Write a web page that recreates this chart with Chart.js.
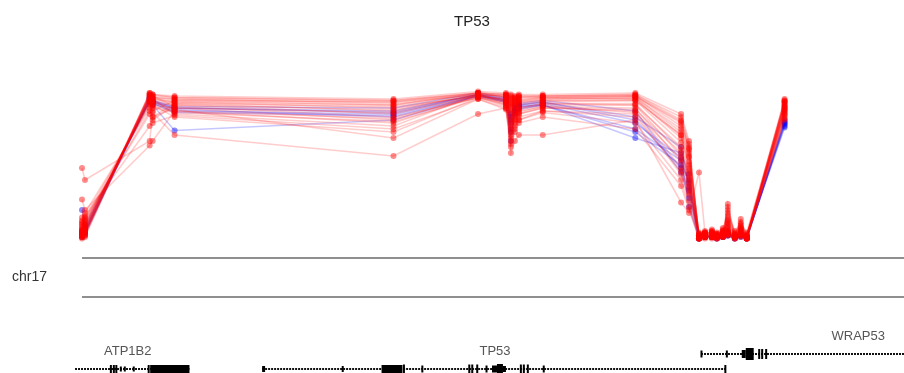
<!DOCTYPE html>
<html>
<head>
<meta charset="utf-8">
<title>TP53</title>
<script src="https://cdn.jsdelivr.net/npm/chart.js@4.4.1/dist/chart.umd.min.js"></script>
<style>
    html, body { margin: 0; padding: 0; background: #fff; }
    #wrap { width: 904px; height: 373px; }
</style>
</head>
<body>
<div id="wrap"><canvas id="methChart" width="904" height="373"></canvas></div>
<script>
// Region shown on chr17 (bp)
const regionStart = 7565000;
const regionEnd = 7589660;

// CpG probe positions (bp)
const cpgPositions = [
    7565000, 7565090, 7567040, 7567130, 7567790, 7574390, 7576940, 7577780,
    7577930, 7578050, 7578170, 7578890, 7581680, 7583060, 7583300, 7583600,
    7583780, 7583990, 7584140, 7584320, 7584470, 7584680, 7584860, 7585040,
    7586180
];

// Beta values per sample, one row per sample
const tumourBetas = [
    [0.04,0.06,0.97,0.96,0.95,0.93,0.98,0.97,0.96,0.95,0.96,0.96,0.97,0.80,0.62,0.02,0.03,0.02,0.03,0.04,0.05,0.02,0.04,0.02,0.91],
    [0.03,0.05,0.96,0.95,0.94,0.91,0.97,0.96,0.93,0.94,0.95,0.95,0.96,0.76,0.58,0.01,0.02,0.03,0.02,0.03,0.06,0.03,0.05,0.01,0.90],
    [0.05,0.07,0.95,0.94,0.93,0.90,0.98,0.95,0.90,0.92,0.93,0.94,0.95,0.72,0.55,0.02,0.03,0.05,0.02,0.06,0.10,0.02,0.08,0.02,0.89],
    [0.02,0.04,0.96,0.93,0.92,0.88,0.96,0.94,0.88,0.90,0.92,0.93,0.94,0.68,0.50,0.01,0.02,0.02,0.01,0.02,0.04,0.01,0.03,0.01,0.88],
    [0.06,0.08,0.94,0.92,0.91,0.86,0.97,0.96,0.85,0.88,0.90,0.92,0.93,0.65,0.46,0.02,0.04,0.03,0.02,0.05,0.18,0.03,0.12,0.03,0.87],
    [0.08,0.10,0.93,0.91,0.90,0.84,0.96,0.93,0.80,0.86,0.88,0.91,0.91,0.60,0.42,0.03,0.03,0.04,0.03,0.04,0.08,0.02,0.06,0.02,0.86],
    [0.03,0.06,0.97,0.96,0.89,0.82,0.95,0.92,0.76,0.84,0.87,0.90,0.90,0.56,0.38,0.01,0.02,0.02,0.02,0.03,0.24,0.02,0.14,0.01,0.92],
    [0.10,0.12,0.92,0.90,0.88,0.80,0.97,0.91,0.72,0.82,0.85,0.89,0.88,0.52,0.34,0.02,0.03,0.03,0.02,0.02,0.05,0.03,0.04,0.02,0.85],
    [0.27,0.20,0.63,0.66,0.86,0.78,0.96,0.90,0.68,0.80,0.84,0.88,0.86,0.48,0.30,0.03,0.02,0.02,0.03,0.04,0.07,0.02,0.05,0.02,0.84],
    [0.48,0.40,0.66,0.85,0.70,0.56,0.84,0.88,0.58,0.66,0.70,0.70,0.80,0.25,0.18,0.45,0.05,0.03,0.02,0.03,0.04,0.02,0.03,0.01,0.80],
    [0.04,0.05,0.95,0.94,0.84,0.76,0.97,0.93,0.70,0.78,0.82,0.86,0.84,0.44,0.26,0.01,0.02,0.02,0.01,0.02,0.03,0.01,0.04,0.01,0.83],
    [0.02,0.03,0.98,0.97,0.96,0.94,0.99,0.98,0.97,0.96,0.97,0.97,0.98,0.84,0.66,0.02,0.02,0.03,0.02,0.03,0.04,0.02,0.03,0.02,0.93],
    [0.05,0.08,0.94,0.90,0.82,0.72,0.95,0.89,0.64,0.74,0.80,0.85,0.78,0.40,0.22,0.02,0.03,0.02,0.02,0.03,0.05,0.02,0.04,0.02,0.82],
    [0.07,0.09,0.93,0.92,0.87,0.68,0.94,0.88,0.62,0.72,0.78,0.82,0.74,0.36,0.20,0.01,0.02,0.03,0.02,0.04,0.06,0.03,0.05,0.01,0.81],
    [0.12,0.15,0.90,0.86,0.93,0.92,0.97,0.95,0.92,0.93,0.94,0.95,0.96,0.78,0.60,0.03,0.04,0.06,0.04,0.07,0.12,0.04,0.09,0.03,0.94],
    [0.15,0.18,0.88,0.82,0.91,0.89,0.96,0.94,0.89,0.91,0.92,0.94,0.95,0.74,0.56,0.04,0.05,0.04,0.03,0.05,0.20,0.05,0.10,0.04,0.92],
    [0.09,0.13,0.86,0.80,0.90,0.87,0.97,0.92,0.86,0.89,0.91,0.93,0.93,0.70,0.52,0.05,0.06,0.07,0.05,0.08,0.16,0.06,0.11,0.05,0.90],
    [0.01,0.02,0.97,0.95,0.94,0.92,0.98,0.97,0.95,0.94,0.95,0.96,0.97,0.82,0.64,0.01,0.01,0.01,0.01,0.02,0.03,0.01,0.02,0.01,0.93],
    [0.06,0.11,0.91,0.88,0.85,0.79,0.95,0.90,0.74,0.80,0.84,0.88,0.87,0.58,0.40,0.03,0.04,0.05,0.03,0.04,0.09,0.03,0.07,0.03,0.87],
    [0.13,0.16,0.76,0.78,0.83,0.74,0.94,0.87,0.66,0.76,0.80,0.86,0.82,0.46,0.32,0.04,0.05,0.03,0.04,0.06,0.14,0.04,0.06,0.03,0.84],
    [0.04,0.07,0.96,0.94,0.92,0.90,0.97,0.96,0.91,0.92,0.93,0.95,0.94,0.70,0.48,0.02,0.03,0.04,0.02,0.03,0.22,0.02,0.08,0.02,0.89],
    [0.11,0.14,0.84,0.82,0.88,0.85,0.96,0.93,0.82,0.86,0.88,0.91,0.90,0.62,0.44,0.04,0.05,0.05,0.03,0.05,0.11,0.03,0.06,0.03,0.88],
    [0.02,0.03,0.98,0.97,0.95,0.93,0.98,0.97,0.94,0.95,0.96,0.96,0.96,0.79,0.61,0.01,0.02,0.02,0.02,0.02,0.04,0.02,0.03,0.01,0.92],
    [0.07,0.10,0.92,0.89,0.86,0.81,0.95,0.91,0.78,0.83,0.86,0.89,0.85,0.54,0.36,0.03,0.04,0.06,0.04,0.05,0.13,0.03,0.07,0.02,0.86]
];
const normalBetas = [
    [0.20,0.10,0.92,0.90,0.73,0.80,0.96,0.92,0.74,0.85,0.88,0.90,0.72,0.50,0.40,0.02,0.02,0.02,0.02,0.03,0.04,0.02,0.03,0.02,0.75],
    [0.04,0.06,0.93,0.91,0.86,0.84,0.97,0.93,0.66,0.86,0.89,0.91,0.78,0.55,0.22,0.01,0.02,0.03,0.02,0.02,0.03,0.01,0.04,0.01,0.78],
    [0.03,0.05,0.94,0.92,0.88,0.86,0.97,0.94,0.80,0.88,0.90,0.92,0.82,0.62,0.35,0.02,0.03,0.02,0.01,0.03,0.05,0.02,0.03,0.02,0.80],
    [0.05,0.07,0.95,0.93,0.89,0.88,0.98,0.95,0.84,0.90,0.91,0.93,0.86,0.45,0.28,0.01,0.02,0.02,0.02,0.02,0.04,0.02,0.03,0.01,0.79],
    [0.02,0.04,0.94,0.92,0.87,0.82,0.96,0.93,0.78,0.87,0.89,0.90,0.68,0.58,0.44,0.02,0.02,0.03,0.02,0.03,0.05,0.02,0.04,0.02,0.77],
    [0.06,0.08,0.93,0.91,0.85,0.83,0.96,0.92,0.72,0.84,0.87,0.90,0.74,0.53,0.38,0.02,0.03,0.02,0.02,0.03,0.04,0.02,0.03,0.02,0.76],
    [0.03,0.05,0.95,0.93,0.88,0.85,0.97,0.94,0.82,0.88,0.90,0.92,0.80,0.48,0.33,0.01,0.02,0.02,0.01,0.02,0.03,0.01,0.02,0.01,0.78]
];

// Gene models: [start, end, height px]
const atp1b2Span = [7564790, 7568240];
const atp1b2Exons = [
    [7565840, 7565885, 8], [7565930, 7565975, 8], [7566005, 7566050, 8],
    [7566140, 7566170, 5], [7566260, 7566290, 5], [7566530, 7566560, 5],
    [7566980, 7567040, 8], [7567055, 7567100, 8], [7567100, 7568240, 8]
];
const tp53Span = [7570430, 7584410];
const tp53Exons = [
    [7570430, 7570520, 6], [7572830, 7572860, 6], [7574030, 7574660, 8],
    [7574675, 7574720, 9], [7575230, 7575260, 7], [7576645, 7576675, 9],
    [7576735, 7576765, 9], [7576885, 7576915, 9], [7577165, 7577195, 7],
    [7577360, 7577510, 7], [7577510, 7577690, 10], [7577690, 7577780, 6],
    [7578200, 7578245, 9], [7578290, 7578335, 9], [7578410, 7578455, 9],
    [7578890, 7578920, 7], [7584365, 7584410, 8]
];
const wrap53Span = [7583660, 7589840];
const wrap53Exons = [
    [7583645, 7583705, 7], [7584410, 7584455, 7], [7584890, 7585010, 8],
    [7585010, 7585250, 12], [7585385, 7585415, 10], [7585475, 7585505, 10],
    [7585595, 7585625, 10]
];

const geneTracks = [
    { name: 'ATP1B2', span: atp1b2Span, exons: atp1b2Exons, y: 369, labelX: 7566380, labelY: 351 },
    { name: 'TP53', span: tp53Span, exons: tp53Exons, y: 369, labelX: 7577450, labelY: 351 },
    { name: 'WRAP53', span: wrap53Span, exons: wrap53Exons, y: 354, labelX: 7588400, labelY: 336 }
];

function toPoints(values) {
    return values.map((v, i) => ({ x: cpgPositions[i], y: v }));
}

function makeDataset(values, rgb, alpha) {
    return {
        data: toPoints(values),
        borderColor: 'rgba(' + rgb + ',' + alpha + ')',
        borderWidth: 1.6,
        pointRadius: 3,
        pointBackgroundColor: 'rgba(' + rgb + ',0.45)',
        pointBorderWidth: 0,
        tension: 0,
        clip: false
    };
}

// tumour lines first so they are painted on top
const datasets = tumourBetas.map(v => makeDataset(v, '255,0,0', 0.2))
    .concat(normalBetas.map(v => makeDataset(v, '0,0,255', 0.22)));

// Title, chromosome track and gene models
const trackPlugin = {
    id: 'tracks',
    afterDraw(chart) {
        const ctx = chart.ctx;
        const xs = chart.scales.x;
        ctx.save();

        ctx.fillStyle = '#222';
        ctx.font = '15px "Liberation Sans Narrow", "Liberation Sans", Arial, sans-serif';
        ctx.textAlign = 'center';
        ctx.textBaseline = 'middle';
        ctx.fillText('TP53', 472, 22);

        // chromosome track
        ctx.strokeStyle = '#6a6a6a';
        ctx.lineWidth = 1.4;
        [258, 297].forEach(y => {
            ctx.beginPath();
            ctx.moveTo(xs.left, y);
            ctx.lineTo(904, y);
            ctx.stroke();
        });
        ctx.fillStyle = '#333';
        ctx.font = '14px "Liberation Sans Narrow", "Liberation Sans", Arial, sans-serif';
        ctx.textAlign = 'left';
        ctx.fillText('chr17', 12, 277);

        // genes
        geneTracks.forEach(g => {
            const x0 = xs.getPixelForValue(g.span[0]);
            const x1 = xs.getPixelForValue(g.span[1]);
            ctx.strokeStyle = '#111';
            ctx.lineWidth = 2;
            ctx.setLineDash([2, 1]);
            ctx.beginPath();
            ctx.moveTo(x0, g.y);
            ctx.lineTo(x1, g.y);
            ctx.stroke();
            ctx.setLineDash([]);

            ctx.fillStyle = '#000';
            g.exons.forEach(e => {
                const a = xs.getPixelForValue(e[0]);
                const b = xs.getPixelForValue(e[1]);
                ctx.fillRect(a, g.y - e[2] / 2, Math.max(b - a, 2), e[2]);
            });

            ctx.fillStyle = '#555';
            ctx.font = '13px "Liberation Sans Narrow", "Liberation Sans", Arial, sans-serif';
            ctx.textAlign = 'center';
            ctx.fillText(g.name, xs.getPixelForValue(g.labelX), g.labelY);
        });

        ctx.restore();
    }
};

new Chart(document.getElementById('methChart'), {
    type: 'line',
    data: { datasets: datasets },
    options: {
        responsive: false,
        animation: false,
        devicePixelRatio: 1,
        layout: { padding: { left: 82, right: 0, top: 90, bottom: 133 } },
        scales: {
            x: { type: 'linear', min: regionStart, max: regionEnd, display: false },
            y: { min: 0, max: 1, display: false }
        },
        plugins: {
            legend: { display: false },
            tooltip: { enabled: false },
            title: { display: false }
        }
    },
    plugins: [trackPlugin]
});
</script>
</body>
</html>
